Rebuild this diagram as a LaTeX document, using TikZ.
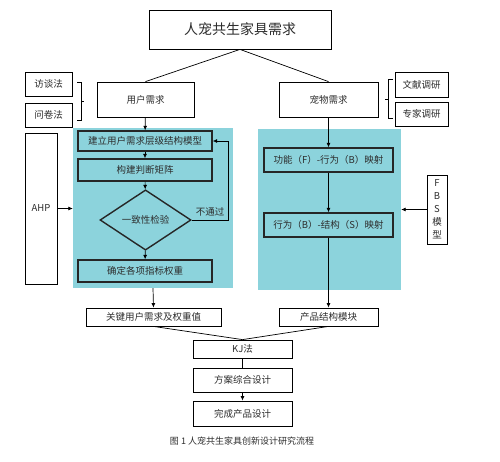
\documentclass[tikz,border=0pt]{standalone}
\usepackage{fontspec}
\setmainfont{Noto Sans CJK SC}
\usetikzlibrary{shapes.geometric, arrows.meta, positioning, calc}
\definecolor{cyanfill}{RGB}{140, 211, 220}
\definecolor{txtgray}{RGB}{45, 45, 45}

\begin{document}
\begin{tikzpicture}[x=1pt, y=-1pt,
			box/.style={rectangle, draw=black, line width=0.8pt, fill=white,
				inner sep=1pt, text=txtgray,
				font=\fontsize{9.5}{11}\selectfont},
			inbox/.style={box, draw=black!85, line width=1.4pt, fill=cyanfill,
				minimum width=134pt},
			region/.style={rectangle, draw=none, fill=cyanfill, inner sep=0pt},
			arr/.style={-{Latex[length=4.5pt, width=4pt]}, line width=0.7pt},
			ln/.style={line width=0.7pt}
			]
			\useasboundingbox (0,0) rectangle (500,461);
			\node[region, minimum width=160pt, minimum height=160pt] (cyanL) at (153,208) {};
			\node[region, minimum width=143pt, minimum height=161pt] (cyanR) at (329.5,209.5) {};
			
			\node[box, minimum width=182pt, minimum height=39pt,
				font=\fontsize{14}{16}\selectfont] (top) at (240,29.5) {人宠共生家具需求};
			\node[box, minimum width=97pt, minimum height=35pt] (user) at (145.5,99.5) {用户需求};
			\node[box, minimum width=99pt, minimum height=35pt] (pet)  at (328.5,99.5) {宠物需求};
			\node[box, minimum width=47pt, minimum height=24pt] (ftf)  at (48.5,84) {访谈法};
			\node[box, minimum width=47pt, minimum height=24pt] (wj)   at (48.5,115) {问卷法};
			\node[box, minimum width=53pt, minimum height=25pt] (wx)   at (421.5,84.5) {文献调研};
			\node[box, minimum width=53pt, minimum height=24pt] (zj)   at (421.5,114) {专家调研};
			
			\node[inbox, minimum height=20pt] (model)  at (145,141) {建立用户需求层级结构模型};
			\node[inbox, minimum height=22pt] (matrix) at (145,170) {构建判断矩阵};
			\node[inbox, diamond, minimum width=91pt, minimum height=60pt]
				(check) at (145.5,220) {一致性检验};
			\node[inbox, minimum height=22pt] (weight) at (145,271) {确定各项指标权重};
			\node[box, minimum width=32pt, minimum height=151pt] (ahp) at (41,208.5) {AHP};
			
			\node[inbox, minimum width=129pt, minimum height=24pt] (fb) at (328.5,160) {功能（F）-行为（B）映射};
			\node[inbox, minimum width=129pt, minimum height=24pt] (bs) at (328.5,225) {行为（B）-结构（S）映射};
			\node[box, minimum width=20pt, minimum height=69pt, align=center,
				font=\fontsize{9.5}{13}\selectfont] (fbs) at (437,209.5) {F\\B\\S\\模\\型};
			
			\node[box, minimum width=135pt, minimum height=18pt] (key)  at (153.5,317) {关键用户需求及权重值};
			\node[box, minimum width=99pt, minimum height=18pt]  (prod) at (328.5,317) {产品结构模块};
			\node[box, minimum width=99pt, minimum height=18pt]  (kj)   at (242.5,349) {KJ法};
			\node[box, minimum width=99pt, minimum height=24pt]  (fa)   at (242.5,380) {方案综合设计};
			\node[box, minimum width=99pt, minimum height=25pt]  (wc)   at (242.5,413.5) {完成产品设计};
			\node[text=txtgray, font=\fontsize{9}{10}\selectfont] (caption) at (242,441)
				{图 1 人宠共生家具创新设计研究流程};
			
			\draw[ln] (top.south) -- (user.north);
			\draw[ln] (top.south) -- (pet.north);
			\draw[ln] (77,82) -- (81,82) -- (81,120) -- (77,120) (81,101) -- (84,101);
			\draw[ln] (393,79) -- (388,79) -- (388,118) -- (393,118) (388,99) -- (385,99);
			
			\draw[arr] (user)   -- (model);
			\draw[arr] (model)  -- (matrix);
			\draw[arr] (matrix) -- (check);
			\draw[arr] (check)  -- (weight);
			\draw[arr] (check.east) -- node[above, text=txtgray, font=\fontsize{9.5}{11}\selectfont] (fail) {不通过}
				++(37,0) |- (model.east);
			\draw[arr] (ahp.east) -- (ahp.east -| cyanL.west);
			\draw[arr] (cyanL.south) -- (key.north);
			
			\draw[arr] (pet)  -- (fb);
			\draw[arr] (fb)   -- (bs);
			\draw[arr] (bs.south) -- (prod.north);
			\draw[arr] (fbs.west) -- (fbs.west -| cyanR.east);
			
			\draw[ln] (key.south)  -- (kj.north);
			\draw[ln] (prod.south) -- (kj.north);
			\draw[ln] (kj) -- (fa);
			\draw[arr] (fa) -- (wc);
		\end{tikzpicture}
\end{document}
